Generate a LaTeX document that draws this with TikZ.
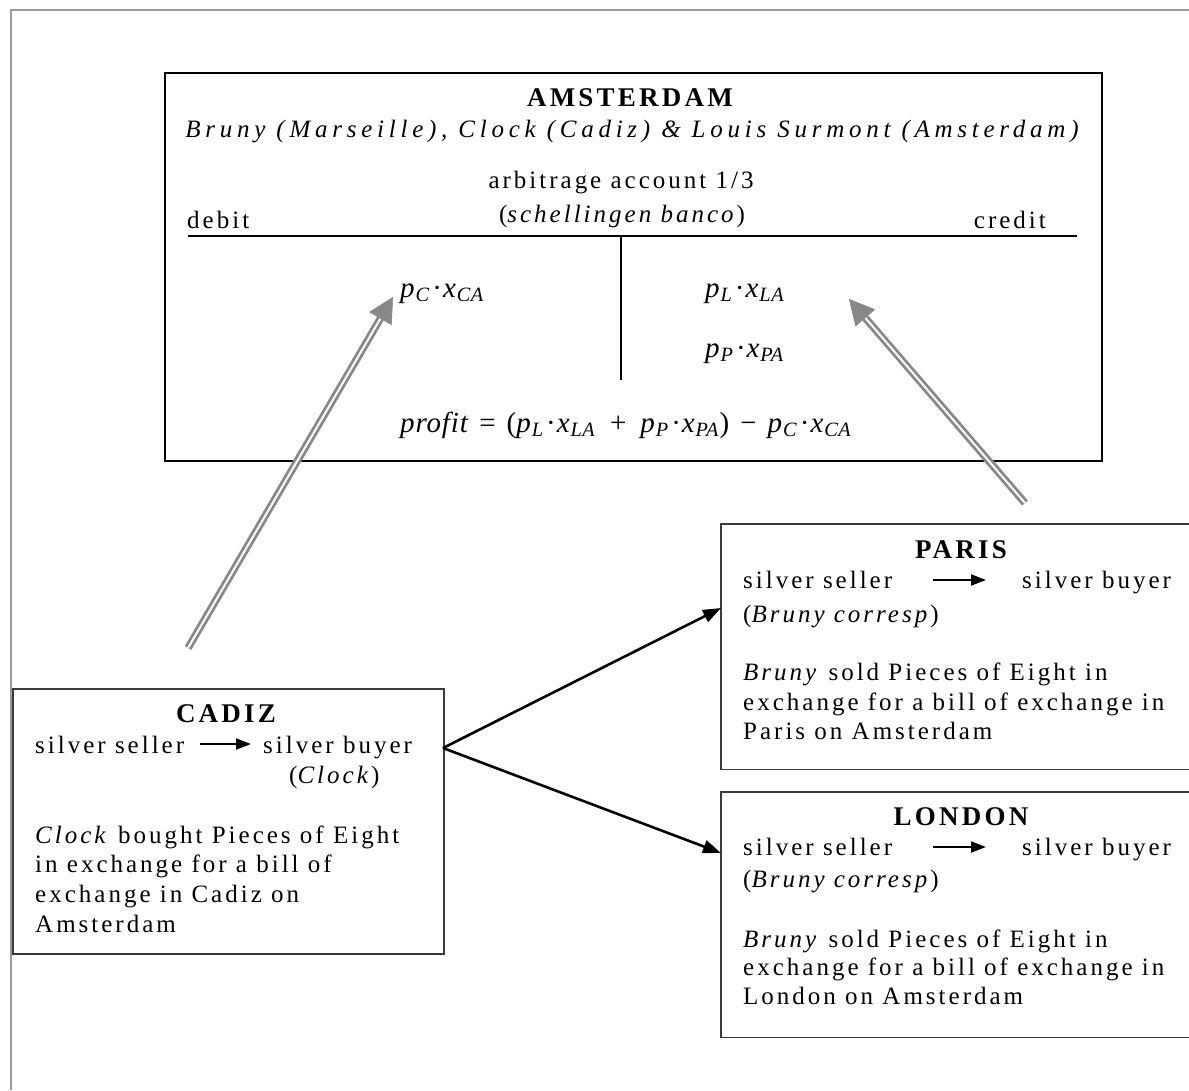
\documentclass[tikz,border=0pt]{standalone}
\usepackage{fontspec}
\setmainfont{Liberation Serif}[LetterSpace=12]
\newfontfamily\mfont{Liberation Serif}
\usetikzlibrary{arrows.meta,calc}
\definecolor{arrgray}{HTML}{888888}
\definecolor{framegray}{HTML}{999999}
\definecolor{boxgray}{HTML}{3A3A3A}
\newcommand{\tv}[2]{\textit{#1}\textsubscript{\textit{#2}}}
\newcommand{\pxv}[4]{\tv{#1}{#2}\kern2pt·\kern1pt\tv{#3}{#4}}
\tikzset{
  txt/.style={inner sep=0pt, anchor=base west, font=\fontsize{25}{29.5}\selectfont},
  ctxt/.style={inner sep=0pt, anchor=base, font=\fontsize{25}{29.5}\selectfont},
  ttl/.style={inner sep=0pt, anchor=base, font=\fontsize{27}{30}\selectfont\bfseries},
  mtxt/.style={inner sep=0pt, anchor=base west, font=\fontsize{29}{31}\mfont\addfontfeatures{LetterSpace=3}},
  cityframe/.style={draw=boxgray, line width=1.5pt},
  blackarrow/.style={line width=2.6pt, -{Triangle[length=18pt,width=13pt]}},
  smallarrow/.style={line width=2pt, -{Triangle[length=15pt,width=11pt]}},
  grayline/.style={draw=arrgray, line width=2.8pt, double=white, double distance=2pt},
  grayhead/.style={draw=arrgray, fill=arrgray, line width=0.5pt, -{Triangle[length=25pt,width=26pt]}}
}
\begin{document}
\begin{tikzpicture}[x=1pt,y=-1pt]
\useasboundingbox (0,0) rectangle (1189,1090);
% outer frame (only top and left visible)
\draw[framegray, line width=1.8pt] (11,1090) -- (11,10) -- (1189,10);

% ===== Amsterdam =====
\node[draw=black, line width=1.6pt, minimum width=937pt, minimum height=388pt, anchor=north west, inner sep=0pt] (ams) at (164,72) {};
\node[ttl] (amsT) at (630,106) {AMSTERDAM};
\node[ctxt] (amsN) at (632,137) {\addfontfeatures{LetterSpace=19}\itshape Bruny (Marseille), Clock (Cadiz) \& Louis Surmont (Amsterdam)};
\node[ctxt] (acc) at (621,188) {arbitrage account 1/3};
\node[ctxt] (sch) at (622,222) {(\textit{schellingen banco})};
\node[txt] (debit) at (187,228) {debit};
\node[txt, anchor=base east] (credit) at (1046,228) {credit};
\coordinate (hl) at (188,236);
\coordinate (hr) at (1077,236);
\coordinate (vt) at (621,236);
\coordinate (vb) at (621,380);
\draw[line width=1.6pt] (hl) -- (hr);
\draw[line width=1.4pt] (vt) -- (vb);
\node[mtxt] (pc) at (400,297) {\pxv{p}{C}{x}{CA}};
\node[mtxt] (pl) at (705,297) {\pxv{p}{L}{x}{LA}};
\node[mtxt] (pp) at (705,357) {\pxv{p}{P}{x}{PA}};
\node[mtxt] (profit) at (400,432) {\textit{profit}\kern10pt=\kern11pt(\pxv{p}{L}{x}{LA}\kern14pt+\kern14pt\pxv{p}{P}{x}{PA})\kern11pt−\kern11pt\pxv{p}{C}{x}{CA}};

% ===== Cadiz =====
\node[cityframe, minimum width=431pt, minimum height=265pt, anchor=north west, inner sep=0pt] (cadiz) at (12,688) {};
\node[ttl] (cadT) at (226,722) {CADIZ};
\node[txt] (cadS) at (35,753) {silver seller};
\coordinate (cadA1) at (200,744);
\coordinate (cadA2) at (251,744);
\draw[smallarrow] (cadA1) -- (cadA2);
\node[txt] (cadB) at (263,753) {silver buyer};
\node[txt] (cadC) at (289,783) {(\textit{Clock})};
\node[txt] (cad1) at (35,843) {\textit{Clock} bought Pieces of Eight};
\node[txt] (cad2) at (35,872) {in exchange for a bill of};
\node[txt] (cad3) at (35,902) {exchange in Cadiz on};
\node[txt] (cad4) at (35,932) {Amsterdam};

% ===== Paris =====
\node[minimum width=468pt, minimum height=245pt, anchor=north west, inner sep=0pt] (paris) at (721,524) {};
\draw[cityframe] (paris.north east) -- (paris.north west) -- (paris.south west) -- (paris.south east);
\node[ttl] (parT) at (961,558) {PARIS};
\node[txt] (parS) at (743,588) {silver seller};
\coordinate (parA1) at (933,580);
\coordinate (parA2) at (986,580);
\draw[smallarrow] (parA1) -- (parA2);
\node[txt] (parB) at (1022,588) {silver buyer};
\node[txt] (parC) at (743,622) {(\textit{Bruny corresp})};
\node[txt] (par1) at (743,680) {\textit{Bruny} sold Pieces of Eight in};
\node[txt] (par2) at (743,710) {exchange for a bill of exchange in};
\node[txt] (par3) at (743,739) {Paris on Amsterdam};

% ===== London =====
\node[minimum width=468pt, minimum height=245pt, anchor=north west, inner sep=0pt] (london) at (721,792) {};
\draw[cityframe] (london.north east) -- (london.north west) -- (london.south west) -- (london.south east);
\node[ttl] (lonT) at (961,825) {LONDON};
\node[txt] (lonS) at (743,855) {silver seller};
\coordinate (lonA1) at (933,847);
\coordinate (lonA2) at (986,847);
\draw[smallarrow] (lonA1) -- (lonA2);
\node[txt] (lonB) at (1022,855) {silver buyer};
\node[txt] (lonC) at (743,887) {(\textit{Bruny corresp})};
\node[txt] (lon1) at (743,947) {\textit{Bruny} sold Pieces of Eight in};
\node[txt] (lon2) at (743,975) {exchange for a bill of exchange in};
\node[txt] (lon3) at (743,1004) {London on Amsterdam};

% ===== black connectors =====
\coordinate (cout) at (443,748);
\coordinate (pin) at (721,608);
\coordinate (lin) at (721,853);
\draw[blackarrow] (cout) -- (pin);
\draw[blackarrow] (cout) -- (lin);

% ===== gray double arrows =====
\coordinate (g1t) at (188,648);
\coordinate (g1h) at (393,297);
\coordinate (g2t) at (1025,503);
\coordinate (g2h) at (849,299);
\draw[grayline, shorten >=20pt] (g1t) -- (g1h);
\draw[grayhead] ($(g1h)!25pt!(g1t)$) -- (g1h);
\draw[grayline, shorten >=20pt] (g2t) -- (g2h);
\draw[grayhead] ($(g2h)!25pt!(g2t)$) -- (g2h);
\end{tikzpicture}
\end{document}
